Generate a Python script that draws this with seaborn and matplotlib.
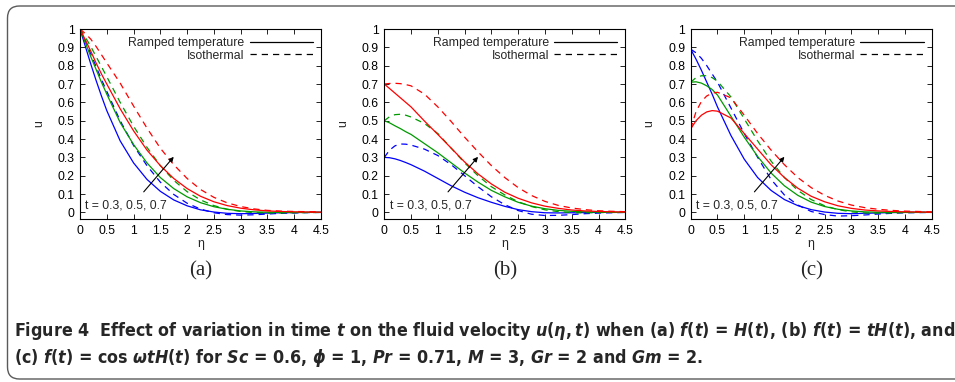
import pandas as pd
import seaborn as sns
import matplotlib.pyplot as plt
from matplotlib import font_manager
from matplotlib.lines import Line2D
from matplotlib.patches import FancyBboxPatch

# eta grid the curves were read at
ETA = [0, 0.1, 0.2, 0.3, 0.4, 0.5, 0.75, 1, 1.25, 1.5, 1.75, 2, 2.25, 2.5,
       2.75, 3, 3.25, 3.5, 3.75, 4, 4.25, 4.5]
TIMES = ['0.3', '0.5', '0.7']
CASES = ['Ramped temperature', 'Isothermal']

# (a) f(t) = H(t)
ramp_a_03 = [1.0, 0.905, 0.81, 0.72, 0.635, 0.555, 0.39, 0.27, 0.18, 0.115, 0.068, 0.036,
             0.014, 0.002, -0.005, -0.007, -0.006, -0.004, -0.002, -0.001, 0.0, 0.0]
ramp_a_05 = [1.0, 0.925, 0.85, 0.78, 0.71, 0.645, 0.49, 0.37, 0.27, 0.19, 0.13, 0.085,
             0.053, 0.031, 0.017, 0.008, 0.003, 0.001, 0.0, 0.0, 0.0, 0.0]
ramp_a_07 = [1.0, 0.94, 0.88, 0.815, 0.755, 0.70, 0.565, 0.445, 0.34, 0.255, 0.185, 0.13,
             0.088, 0.058, 0.037, 0.023, 0.014, 0.008, 0.005, 0.003, 0.002, 0.001]
iso_a_03 = [1.0, 0.935, 0.865, 0.795, 0.725, 0.66, 0.50, 0.365, 0.255, 0.165, 0.098, 0.05,
            0.018, -0.002, -0.012, -0.015, -0.013, -0.009, -0.005, -0.003, -0.001, 0.0]
iso_a_05 = [1.0, 0.955, 0.905, 0.85, 0.795, 0.74, 0.60, 0.47, 0.355, 0.255, 0.175, 0.113,
            0.068, 0.037, 0.017, 0.005, -0.001, -0.003, -0.003, -0.002, -0.001, 0.0]
iso_a_07 = [1.0, 0.975, 0.945, 0.905, 0.86, 0.815, 0.705, 0.58, 0.46, 0.35, 0.26, 0.185,
            0.125, 0.082, 0.052, 0.032, 0.019, 0.011, 0.007, 0.005, 0.004, 0.003]

# (b) f(t) = tH(t)
ramp_b_03 = [0.30, 0.298, 0.292, 0.283, 0.272, 0.26, 0.225, 0.185, 0.145, 0.11, 0.08, 0.055,
             0.033, 0.015, 0.004, -0.002, -0.003, -0.002, -0.001, 0.0, 0.0, 0.0]
ramp_b_05 = [0.50, 0.488, 0.472, 0.457, 0.44, 0.425, 0.375, 0.325, 0.27, 0.215, 0.165, 0.12,
             0.085, 0.055, 0.034, 0.02, 0.011, 0.006, 0.003, 0.001, 0.0, 0.0]
ramp_b_07 = [0.70, 0.675, 0.65, 0.625, 0.60, 0.575, 0.498, 0.425, 0.35, 0.275, 0.21, 0.155,
             0.11, 0.077, 0.052, 0.034, 0.022, 0.013, 0.008, 0.005, 0.003, 0.002]
iso_b_03 = [0.30, 0.34, 0.363, 0.373, 0.372, 0.367, 0.345, 0.31, 0.26, 0.2, 0.14, 0.085,
            0.042, 0.01, -0.01, -0.017, -0.016, -0.012, -0.007, -0.004, -0.002, 0.0]
iso_b_05 = [0.50, 0.522, 0.533, 0.535, 0.53, 0.52, 0.485, 0.43, 0.35, 0.27, 0.20, 0.14,
            0.095, 0.058, 0.032, 0.014, 0.004, -0.001, -0.002, -0.001, 0.0, 0.0]
iso_b_07 = [0.70, 0.703, 0.704, 0.702, 0.697, 0.69, 0.645, 0.575, 0.495, 0.41, 0.33, 0.255,
            0.19, 0.135, 0.092, 0.06, 0.038, 0.024, 0.015, 0.009, 0.006, 0.004]

# (c) f(t) = cos(wt)H(t)
ramp_c_03 = [0.89, 0.835, 0.775, 0.71, 0.645, 0.575, 0.42, 0.29, 0.19, 0.12, 0.07, 0.037,
             0.015, 0.002, -0.005, -0.007, -0.005, -0.003, -0.001, 0.0, 0.0, 0.0]
ramp_c_05 = [0.71, 0.712, 0.705, 0.69, 0.67, 0.64, 0.525, 0.41, 0.305, 0.215, 0.145, 0.093,
             0.056, 0.032, 0.017, 0.008, 0.003, 0.001, 0.0, 0.0, 0.0, 0.0]
ramp_c_07 = [0.455, 0.50, 0.53, 0.548, 0.555, 0.552, 0.515, 0.43, 0.345, 0.26, 0.19, 0.132,
             0.088, 0.058, 0.036, 0.022, 0.013, 0.008, 0.005, 0.003, 0.002, 0.001]
iso_c_03 = [0.89, 0.87, 0.84, 0.80, 0.755, 0.71, 0.57, 0.43, 0.30, 0.18, 0.095, 0.04,
            0.005, -0.012, -0.02, -0.018, -0.014, -0.009, -0.005, -0.002, -0.001, 0.0]
iso_c_05 = [0.71, 0.735, 0.745, 0.745, 0.735, 0.715, 0.63, 0.51, 0.39, 0.28, 0.19, 0.12,
            0.07, 0.036, 0.015, 0.003, -0.003, -0.004, -0.003, -0.001, 0.0, 0.0]
iso_c_07 = [0.455, 0.55, 0.605, 0.635, 0.65, 0.655, 0.625, 0.53, 0.43, 0.34, 0.26, 0.19,
            0.135, 0.093, 0.062, 0.04, 0.026, 0.017, 0.011, 0.007, 0.005, 0.003]

PANELS = ['(a)', '(b)', '(c)']
RAMPED = [[ramp_a_03, ramp_a_05, ramp_a_07],
          [ramp_b_03, ramp_b_05, ramp_b_07],
          [ramp_c_03, ramp_c_05, ramp_c_07]]
ISOTHERMAL = [[iso_a_03, iso_a_05, iso_a_07],
              [iso_b_03, iso_b_05, iso_b_07],
              [iso_c_03, iso_c_05, iso_c_07]]

X_TICKS = [0, 0.5, 1, 1.5, 2, 2.5, 3, 3.5, 4, 4.5]
X_TICK_LABELS = ['0', '0.5', '1', '1.5', '2', '2.5', '3', '3.5', '4', '4.5']
Y_TICKS = [0, 0.1, 0.2, 0.3, 0.4, 0.5, 0.6, 0.7, 0.8, 0.9, 1]
Y_TICK_LABELS = ['0', '0.1', '0.2', '0.3', '0.4', '0.5', '0.6', '0.7', '0.8', '0.9', '1']
ARROW_START = (1.19, 0.112)
ARROW_END = (1.75, 0.303)
T_NOTE = 't = 0.3, 0.5, 0.7'

CAPTION_1 = (r'Figure 4  Effect of variation in time $t$ on the fluid velocity $u(\eta,t)$ when '
             r'(a) $f(t)$ = $H(t)$, (b) $f(t)$ = $tH(t)$, and')
CAPTION_2 = (r'(c) $f(t)$ = cos $\omega tH(t)$ for $Sc$ = 0.6, $\phi$ = 1, $Pr$ = 0.71, '
             r'$M$ = 3, $Gr$ = 2 and $Gm$ = 2.')

PALETTE = {'0.3': '#0000ff', '0.5': '#009a00', '0.7': '#ff0000'}
DASH = (5, 4)


def make_df(ramped, iso):
    rows = []
    for case, series in zip(CASES, [ramped, iso]):
        for t, vals in zip(TIMES, series):
            for e, u in zip(ETA, vals):
                rows.append({'eta': e, 'u': u, 't': t, 'case': case})
    return pd.DataFrame(rows)


def pick_caption_font():
    """
    Look for a narrow bold sans face, the caption is set in a condensed type.
    """
    fonts = font_manager.fontManager.ttflist
    names = {f.name for f in fonts}
    if 'Liberation Sans Narrow' in names:
        return 'Liberation Sans Narrow', 'normal'
    for fam in ['Noto Sans', 'DejaVu Sans', 'Open Sans', 'Roboto', 'Lato', 'Inter']:
        for f in fonts:
            if f.name == fam and f.stretch == 'condensed' and str(f.weight) in ('700', 'bold'):
                return fam, 'condensed'
    return 'Liberation Sans', 'normal'


sns.set_style('ticks')
plt.rcParams['font.family'] = ['Liberation Sans', 'DejaVu Sans']

cap_family, cap_stretch = pick_caption_font()
st = ':stretch=' + cap_stretch
plt.rcParams['mathtext.fontset'] = 'custom'
plt.rcParams['mathtext.rm'] = cap_family + ':weight=bold' + st
plt.rcParams['mathtext.it'] = cap_family + ':style=italic:weight=bold' + st
plt.rcParams['mathtext.bf'] = cap_family + ':weight=bold' + st

fig = plt.figure(figsize=(9.55, 3.82), dpi=100)

# rounded frame around the figure
bg = fig.add_axes([0, 0, 1, 1], zorder=-5)
bg.set_xlim(0, 955)
bg.set_ylim(382, 0)
bg.axis('off')
bg.add_patch(FancyBboxPatch((7.5, 6), 990, 373, boxstyle='round,pad=0,rounding_size=12',
                            fill=False, edgecolor='#5a5a5a', linewidth=1.0))

lefts = [80 / 955, 384.3 / 955, 690.7 / 955]
for i, left in enumerate(lefts):
    ax = fig.add_axes([left, 1 - 219 / 382, 241 / 955, 190 / 382])
    df = make_df(RAMPED[i], ISOTHERMAL[i])
    sns.lineplot(data=df, x='eta', y='u', hue='t', style='case', palette=PALETTE,
                 hue_order=TIMES, style_order=CASES,
                 dashes={'Ramped temperature': '', 'Isothermal': DASH},
                 linewidth=0.9, estimator=None, sort=False, legend=False, ax=ax)
    ax.set_xlim(0, 4.5)
    ax.set_ylim(-0.036, 1)
    ax.set_xticks(X_TICKS, labels=X_TICK_LABELS)
    ax.set_yticks(Y_TICKS, labels=Y_TICK_LABELS)
    ax.tick_params(direction='in', top=True, right=True, length=3.5, width=0.6,
                   labelsize=8.8, pad=4, colors='black')
    for sp in ax.spines.values():
        sp.set_linewidth(0.8)
        sp.set_color('black')
    ax.set_xlabel('\u03b7', fontsize=8.8, labelpad=1)
    ax.set_ylabel('u', fontsize=8.8, labelpad=9)

    ax.annotate('', xy=ARROW_END, xytext=ARROW_START,
                arrowprops=dict(arrowstyle='-|>', color='black', lw=0.8,
                                mutation_scale=7, shrinkA=0, shrinkB=0))
    ax.text(0.1, 0.04, T_NOTE, fontsize=8.8, ha='left', va='center')

    handles = [Line2D([], [], color='black', lw=0.9),
               Line2D([], [], color='black', lw=0.9, dashes=DASH)]
    ax.legend(handles, CASES, loc='upper right', frameon=False, markerfirst=False,
              fontsize=8.8, handlelength=5.2, handletextpad=0.4, labelspacing=0.05,
              borderpad=0.2, borderaxespad=0.45)

    fig.text(left + 241 / 955 / 2, 1 - 271 / 382, PANELS[i], fontsize=15,
             family='Liberation Serif', ha='center', va='center')

cap_fs = 13
cap_kw = dict(fontsize=cap_fs, family=cap_family, fontstretch=cap_stretch,
              weight='bold', ha='left', va='baseline')
cap1 = fig.text(14 / 955, 1 - 336 / 382, CAPTION_1, **cap_kw)
cap2 = fig.text(14 / 955, 1 - 363 / 382, CAPTION_2, **cap_kw)

# fit the first caption line to the width it has in the source page
fig.canvas.draw()
w = cap1.get_window_extent(fig.canvas.get_renderer()).width
cap1.set_fontsize(cap_fs * 936 / w)
cap2.set_fontsize(cap_fs * 936 / w)

fig.savefig('out.png', dpi=100)
plt.close()
